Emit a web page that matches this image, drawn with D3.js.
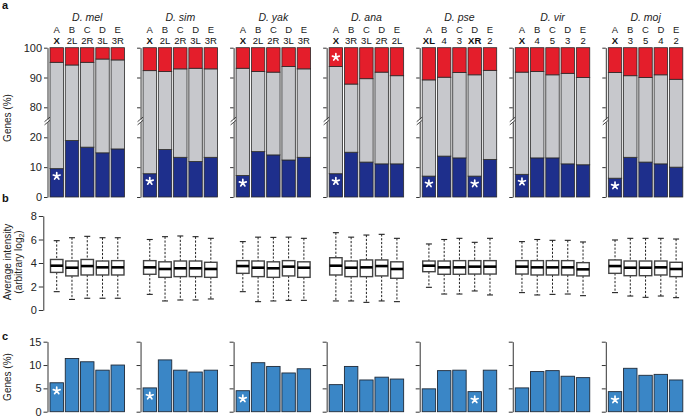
<!DOCTYPE html>
<html><head><meta charset="utf-8">
<script src="https://cdn.jsdelivr.net/npm/d3@7"></script>
<style>
body{margin:0;background:#fff;}
svg{display:block;font-family:"Liberation Sans",Arial,sans-serif;}
</style></head><body>
<svg id="chart" width="685" height="418"></svg>
<script>
// ---------------- DATA ----------------
const species = ["D. mel","D. sim","D. yak","D. ana","D. pse","D. vir","D. moj"];
const letters = ["A","B","C","D","E"];
const chromosomes = [
  ["X","2L","2R","3L","3R"],
  ["X","2L","2R","3L","3R"],
  ["X","2L","2R","3L","3R"],
  ["X","3R","3L","2R","2L"],
  ["XL","4","3","XR","2"],
  ["X","4","5","3","2"],
  ["X","3","5","4","2"]
];
// panel a: % genes down (blue) and up (red)
const downPct = [
  [9.5,18.9,16.7,14.8,16.1],
  [7.8,15.9,13.3,11.9,13.3],
  [7.2,15.2,14.1,12.4,13.3],
  [7.8,15.0,11.7,11.1,11.1],
  [7.0,13.7,13.1,7.0,12.6],
  [7.6,13.1,13.1,11.1,10.8],
  [6.3,13.3,11.7,11.1,10.0]
];
const upPct = [
  [4.9,5.8,4.9,3.8,4.1],
  [7.7,8.0,7.1,6.9,7.1],
  [6.9,8.0,8.2,6.3,7.1],
  [6.3,12.2,10.4,8.2,9.4],
  [10.8,9.9,8.3,9.1,7.6],
  [8.2,8.0,9.1,8.6,10.0],
  [8.3,9.4,10.0,9.1,10.6]
];
const downStars = [[0],[0],[0],[0],[0,3],[0],[0]];
const upStars = [[],[],[],[0],[],[],[]];
const aTicks = [0,10,20,80,90,100];
// panel b: box plot statistics (log2 intensity)
const whiskerHigh = [
  [5.90,6.15,6.27,6.15,6.15],
  [6.00,6.24,6.30,6.24,6.10],
  [5.82,6.20,6.18,6.20,6.10],
  [6.58,6.20,6.38,6.44,6.10],
  [5.62,6.00,6.10,5.76,6.10],
  [5.82,6.00,5.93,5.93,5.79],
  [5.96,6.10,6.10,6.10,6.04]
];
const quartile3 = [
  [4.30,4.17,4.30,4.17,4.20],
  [4.20,4.10,4.17,4.17,4.06],
  [4.20,4.17,4.10,4.20,4.10],
  [4.45,4.17,4.26,4.26,4.10],
  [4.17,4.17,4.20,4.20,4.20],
  [4.20,4.20,4.20,4.20,4.03],
  [4.26,4.17,4.17,4.17,4.06]
];
const medians = [
  [3.77,3.60,3.74,3.63,3.63],
  [3.63,3.49,3.55,3.55,3.49],
  [3.74,3.60,3.55,3.69,3.60],
  [3.77,3.60,3.63,3.74,3.49],
  [3.77,3.63,3.63,3.69,3.69],
  [3.69,3.63,3.63,3.63,3.46],
  [3.74,3.60,3.60,3.63,3.49]
];
const quartile1 = [
  [3.20,2.90,2.98,2.98,2.98],
  [3.04,2.78,2.84,2.84,2.78],
  [3.12,2.84,2.78,2.90,2.78],
  [2.98,2.84,2.84,2.90,2.70],
  [3.26,3.04,3.04,3.06,3.06],
  [3.06,2.98,2.98,2.98,2.90],
  [3.12,2.92,2.92,2.98,2.84]
];
const whiskerLow = [
  [1.56,0.90,1.00,1.00,1.00],
  [1.33,0.77,0.85,0.85,0.94],
  [1.56,0.71,0.77,0.82,0.82],
  [0.77,0.77,0.65,0.77,0.71],
  [1.93,1.36,1.36,1.62,1.28],
  [1.48,1.28,1.33,1.36,1.22],
  [1.48,1.19,1.08,1.19,1.05]
];
const bTicks = [0,2,4,6,8];
// panel c: % genes
const cPct = [
  [6.2,11.4,10.7,8.9,10.0],
  [5.1,11.1,8.9,8.5,8.9],
  [4.5,10.5,9.7,8.3,9.2],
  [5.8,9.7,6.8,7.4,7.0],
  [4.9,8.8,8.9,4.3,8.9],
  [5.1,8.6,8.8,7.6,7.3],
  [4.3,9.3,7.8,8.0,6.8]
];
const cStars = [[0],[0],[0],[],[3],[],[0]];
const cTicks = [0,5,10,15];

// ---------------- STYLE ----------------
const cBlue = "#1e2f8c", cRed = "#e41e2b", cGrey = "#c7c8cc", cSteel = "#3a86c6";
const ink = "#222", axisCol = "#333";

const svg = d3.select("#chart");
const groupX = d3.scalePoint().domain(species).range([50, 608.3]);
const inner = d3.scaleBand().domain(d3.range(5)).range([0, 74.5]).paddingInner(0.12);
const yA = d3.scaleLinear().domain([0,20,80,100]).range([197,137.3,107.3,47.7]);
const yB = d3.scaleLinear().domain([0,8]).range([310,216]);
const yC = d3.scaleLinear().domain([0,15]).range([411.7,341.7]);

function starPath(r){
  let p = "";
  for (let k=0;k<5;k++){
    const a = -Math.PI/2 + k*2*Math.PI/5;
    p += `M0,0L${(r*Math.cos(a)).toFixed(2)},${(r*Math.sin(a)).toFixed(2)}`;
  }
  return p;
}
function drawStar(g, x, y){
  g.append("path").attr("d", starPath(3.6)).attr("transform",`translate(${x},${y})`)
    .attr("stroke","#fff").attr("stroke-width",1.7).attr("stroke-linecap","round").attr("fill","none");
}
function styleAxis(g, showLabels){
  g.select(".domain").attr("stroke", axisCol).attr("stroke-width",1);
  g.selectAll(".tick line").attr("stroke", axisCol);
  g.selectAll(".tick text").attr("fill", ink).style("font-size","11px")
    .style("font-family",'"Liberation Sans",Arial,sans-serif');
  if(!showLabels) g.selectAll(".tick text").remove();
}

// panel letters
[["a",8.5],["b",202],["c",340]].forEach(([t,y])=>{
  svg.append("text").attr("x",2).attr("y",y).text(t)
    .attr("font-weight","bold").attr("font-size",11).attr("fill","#111");
});

// y-axis titles
svg.append("text").attr("transform","translate(11,118) rotate(-90)")
  .attr("text-anchor","middle").attr("font-size",10).attr("fill",ink).text("Genes (%)");
const tb = svg.append("text").attr("transform","translate(11,262) rotate(-90)")
  .attr("text-anchor","middle").attr("font-size",10).attr("fill",ink);
tb.append("tspan").attr("x",0).attr("dy",0).text("Average intensity");
const tb2 = tb.append("tspan").attr("x",0).attr("dy",10.5).text("(arbitrary  log");
tb2.append("tspan").attr("font-size",7).attr("dy",2).text("2");
tb2.append("tspan").attr("dy",-2).text(")");
svg.append("text").attr("transform","translate(11,377) rotate(-90)")
  .attr("text-anchor","middle").attr("font-size",10).attr("fill",ink).text("Genes (%)");

species.forEach((sp, si) => {
  const gx = groupX(sp);
  const axX = gx - 2.5;
  const G = svg.append("g");

  // headers
  G.append("text").attr("x", gx + 37.25).attr("y", 20.5).attr("text-anchor","middle")
    .attr("font-style","italic").attr("font-size",10.5).attr("fill",ink).text(sp);
  letters.forEach((L,i)=>{
    const cx = gx + inner(i) + inner.bandwidth()/2;
    G.append("text").attr("x",cx).attr("y",32.8).attr("text-anchor","middle")
      .attr("font-size",9.5).attr("fill",ink).text(L);
    const ch = chromosomes[si][i];
    G.append("text").attr("x",cx).attr("y",43.8).attr("text-anchor","middle")
      .attr("font-size",9.5).attr("fill","#111")
      .attr("font-weight", ch.startsWith("X") ? "bold" : "normal").text(ch);
  });

  // ---- panel a ----
  const axA = G.append("g").attr("transform",`translate(${axX},0)`)
    .call(d3.axisLeft(yA).tickValues(aTicks).tickSize(3.5).tickSizeOuter(0).tickPadding(2));
  styleAxis(axA, si===0);
  // axis break
  const yb = (yA(20)+yA(80))/2 - 1.5;
  G.append("rect").attr("x",axX-1).attr("y",yb-1.5).attr("width",2).attr("height",3).attr("fill","#fff");
  [-1.6,1.6].forEach(d=>{
    G.append("line").attr("x1",axX-3).attr("y1",yb+d+2.5).attr("x2",axX+3).attr("y2",yb+d-2.5)
      .attr("stroke",axisCol).attr("stroke-width",0.9);
  });
  letters.forEach((L,i)=>{
    const x = gx + inner(i), w = inner.bandwidth();
    const dn = downPct[si][i], up = upPct[si][i];
    const segs = [[0,dn,cBlue],[dn,100-up,cGrey],[100-up,100,cRed]];
    segs.forEach(([a,b,c])=>{
      G.append("rect").attr("x",x).attr("y",yA(b)).attr("width",w).attr("height",yA(a)-yA(b))
        .attr("fill",c).attr("stroke","#2a2a2a").attr("stroke-width",0.8);
    });
    if (downStars[si].includes(i)) drawStar(G, x + w/2, yA(dn) + 7.5);
    if (upStars[si].includes(i)) drawStar(G, x + w/2, yA(100) + 9.5);
  });

  // ---- panel b ----
  if (si===0){
    const axB = svg.append("g").attr("transform","translate(43.3,0)")
      .call(d3.axisLeft(yB).tickValues(bTicks).tickSize(4.5).tickSizeOuter(0).tickPadding(2));
    styleAxis(axB, true);
  }
  letters.forEach((L,i)=>{
    const x = gx + inner(i), w = inner.bandwidth(), cx = x + w/2;
    const lo = whiskerLow[si][i], q1 = quartile1[si][i], md = medians[si][i],
          q3 = quartile3[si][i], hi = whiskerHigh[si][i];
    G.append("line").attr("x1",cx).attr("x2",cx).attr("y1",yB(hi)).attr("y2",yB(q3))
      .attr("stroke","#222").attr("stroke-width",1).attr("stroke-dasharray","2.2,1.6");
    G.append("line").attr("x1",cx).attr("x2",cx).attr("y1",yB(q1)).attr("y2",yB(lo))
      .attr("stroke","#222").attr("stroke-width",1).attr("stroke-dasharray","2.2,1.6");
    [hi,lo].forEach(v=>{
      G.append("line").attr("x1",cx-3).attr("x2",cx+3).attr("y1",yB(v)).attr("y2",yB(v))
        .attr("stroke","#222").attr("stroke-width",1.1);
    });
    G.append("rect").attr("x",x+0.5).attr("y",yB(q3)).attr("width",w-1).attr("height",yB(q1)-yB(q3))
      .attr("fill","#fff").attr("stroke","#444").attr("stroke-width",1.4);
    G.append("line").attr("x1",x+0.5).attr("x2",x+w-0.5).attr("y1",yB(md)).attr("y2",yB(md))
      .attr("stroke","#000").attr("stroke-width",2.6);
  });

  // ---- panel c ----
  const axC = G.append("g").attr("transform",`translate(${axX},0)`)
    .call(d3.axisLeft(yC).tickValues(cTicks).tickSize(4).tickSizeOuter(0).tickPadding(2));
  styleAxis(axC, si===0);
  letters.forEach((L,i)=>{
    const x = gx + inner(i), w = inner.bandwidth(), v = cPct[si][i];
    G.append("rect").attr("x",x).attr("y",yC(v)).attr("width",w).attr("height",yC(0)-yC(v))
      .attr("fill",cSteel).attr("stroke","#1f2a38").attr("stroke-width",0.9);
    if (cStars[si].includes(i)) drawStar(G, x + w/2, yC(v) + 8);
  });
});
</script>
</body></html>
